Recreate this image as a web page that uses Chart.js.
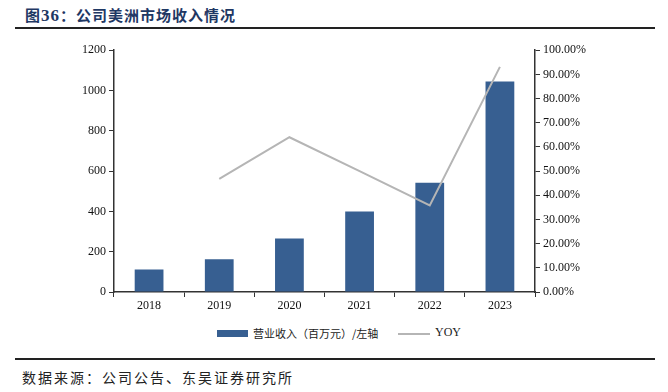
<!DOCTYPE html>
<html>
<head>
<meta charset="utf-8">
<script src="https://cdn.jsdelivr.net/npm/chart.js@4.4.0/dist/chart.umd.min.js"></script>
<style>
  html, body { margin: 0; padding: 0; background: #fff; }
  #wrap { position: relative; width: 668px; height: 392px; overflow: hidden; }
  .title { position: absolute; left: 25px; top: 4px; font: bold 15px "Noto Sans CJK SC", sans-serif; color: #1f3864; letter-spacing: 1px; }
  .title .num { font-family: "Liberation Serif", serif; font-size: 17px; }
  .rule { position: absolute; left: 15px; width: 640px; height: 2px; background: #222; }
  .src { position: absolute; left: 22px; top: 367px; font: 14px "Noto Sans CJK SC", sans-serif; color: #222; letter-spacing: 2px; }
  #chartBox { position: absolute; left: 0; top: 40px; width: 668px; height: 280px; }
  .legend { position: absolute; top: 325px; left: 0; width: 668px; height: 16px; font: 11px "Noto Sans CJK SC", sans-serif; color: #222; }
  .legend span { position: absolute; }
</style>
</head>
<body>
<div id="wrap">
  <div class="title">图<span class="num">36</span>：公司美洲市场收入情况</div>
  <div class="rule" style="top:27px"></div>
  <div id="chartBox"><canvas id="c" width="668" height="280"></canvas></div>
  <div class="legend" id="legend"></div>
  <div class="rule" style="top:358px"></div>
  <div class="src">数据来源：公司公告、东吴证券研究所</div>
</div>
<script>
// 数据
var years = ['2018', '2019', '2020', '2021', '2022', '2023'];
var revenue = [112, 163, 266, 400, 542, 1045];      // 百万元
var yoy = [null, 46.8, 64.0, 50.0, 35.8, 93.1];      // %
var seriesNames = ['营业收入（百万元）/左轴', 'YOY'];
var barColor = '#375f91';
var lineColor = '#b5b5b5';

var serif = '"Liberation Serif", "Times New Roman", serif';
var axisColor = '#333';

function fixWidth(w) { return function(s) { s.width = w; }; }

new Chart(document.getElementById('c'), {
  type: 'bar',
  data: {
    labels: years,
    datasets: [
      { type: 'line', label: seriesNames[1], data: yoy, yAxisID: 'y1', borderColor: lineColor,
        borderWidth: 2, pointRadius: 0, tension: 0, order: 0 },
      { label: seriesNames[0], data: revenue, yAxisID: 'y', backgroundColor: barColor,
        barPercentage: 0.41, categoryPercentage: 1, order: 1 }
    ]
  },
  options: {
    responsive: false,
    animation: false,
    layout: { padding: { top: 10, left: 0, right: 0, bottom: 0 } },
    plugins: { legend: { display: false }, tooltip: { enabled: false } },
    scales: {
      x: {
        grid: { display: true, drawOnChartArea: false, tickLength: 5, color: axisColor, offset: true },
        border: { color: axisColor, width: 1.5 },
        ticks: { color: '#111', font: { family: serif, size: 12 }, padding: 2 },
        afterFit: function(s) { s.height = 28; }
      },
      y: {
        position: 'left', min: 0, max: 1200,
        grid: { drawOnChartArea: false, tickLength: 5, color: axisColor },
        border: { color: axisColor, width: 1.5 },
        ticks: { stepSize: 200, color: '#111', font: { family: serif, size: 12 }, padding: 3,
          callback: function(v) { return String(v); } },
        afterFit: fixWidth(114)
      },
      y1: {
        position: 'right', min: 0, max: 100,
        grid: { drawOnChartArea: false, tickLength: 5, color: axisColor },
        border: { color: axisColor, width: 1.5 },
        ticks: { stepSize: 10, color: '#111', font: { family: serif, size: 12 }, padding: 3,
          callback: function(v) { return v.toFixed(2) + '%'; } },
        afterFit: fixWidth(133)
      }
    }
  }
});

// 图例
var lg = document.getElementById('legend');
lg.innerHTML =
  '<span style="left:217px;top:5px;width:31px;height:7px;background:' + barColor + '"></span>' +
  '<span style="left:253px;top:0">' + seriesNames[0] + '</span>' +
  '<span style="left:398px;top:8px;width:32px;height:2px;background:' + lineColor + '"></span>' +
  '<span style="left:435px;top:0;font:12px ' + serif.replace(/"/g, "'") + '">' + seriesNames[1] + '</span>';
</script>
</body>
</html>
